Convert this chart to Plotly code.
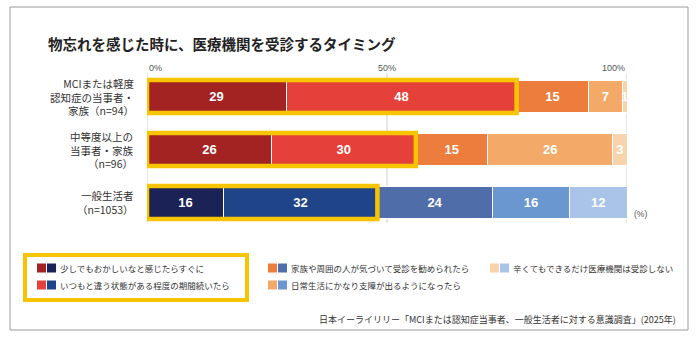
import plotly.graph_objects as go

# ---- data -------------------------------------------------------------
title = "物忘れを感じた時に、医療機関を受診するタイミング"
groups = [
    "MCIまたは軽度<br>認知症の当事者・<br>家族（n=94）",
    "中等度以上の<br>当事者・家族<br>（n=96）",
    "一般生活者<br>（n=1053）",
]
answers = [
    "少しでもおかしいなと感じたらすぐに",
    "いつもと違う状態がある程度の期間続いたら",
    "家族や周囲の人が気づいて受診を勧められたら",
    "日常生活にかなり支障が出るようになったら",
    "辛くてもできるだけ医療機関は受診しない",
]
mci_values = [29, 48, 15, 7, 1]
moderate_values = [26, 30, 15, 26, 3]
general_values = [16, 32, 24, 16, 12]
axis_ticks = [0, 50, 100]
tick_labels = ["0%", "50%", "100%"]
unit_label = "(%)"
source = "日本イーライリリー「MCIまたは認知症当事者、一般生活者に対する意識調査」(2025年)"

rows = [mci_values, moderate_values, general_values]

# ---- style ------------------------------------------------------------
warm = ["#a32322", "#e5403a", "#ec7d3c", "#f3a967", "#f8d3ab"]
cool = ["#1b2255", "#1f4487", "#4f6ea9", "#6a97d0", "#a9c4e7"]
row_palette = [warm, warm, cool]
yellow = "#f7c400"
font_jp = "Noto Sans CJK JP"
text_color = "#333333"

W, H = 700, 343
L, R, T, B = 147, 73, 70, 113
PW, PH = W - L - R, H - T - B


def px(x):
    return (x - L) / PW


def py(y):
    return (H - B - y) / PH


fig = go.Figure()

ypos = list(range(len(rows)))
for k in range(len(answers)):
    vals = [r[k] for r in rows]
    fig.add_trace(go.Bar(
        y=ypos,
        x=vals,
        orientation="h",
        width=0.62,
        marker=dict(color=[pal[k] for pal in row_palette],
                    line=dict(color="white", width=1)),
        text=[str(v) for v in vals],
        textposition="inside",
        insidetextanchor="middle",
        constraintext="none",
        textfont=dict(family="Liberation Sans", size=13, color="white",
                      weight="bold"),
        hoverinfo="skip",
        showlegend=False,
        cliponaxis=False,
    ))

shapes = []
# vertical guides at 0 / 50 / 100 %
for t in axis_ticks:
    shapes.append(dict(type="line", xref="x", yref="y", x0=t, x1=t,
                       y0=-0.44, y1=2.39, line=dict(color="#cfcfcf", width=1),
                       layer="below"))

# yellow frame around the "early visit" share of each row
for i, r in enumerate(rows):
    shapes.append(dict(type="rect", xref="x", yref="y",
                       x0=0, x1=r[0] + r[1], y0=i - 0.31, y1=i + 0.31,
                       line=dict(color=yellow, width=4.5), layer="above"))

# outer frame
shapes.append(dict(type="rect", xref="paper", yref="paper",
                   x0=px(10), x1=px(688), y0=py(330), y1=py(7),
                   line=dict(color="#9a9a9a", width=1), layer="below"))

# legend frame for the first two answers
shapes.append(dict(type="rect", xref="paper", yref="paper",
                   x0=px(25), x1=px(247), y0=py(300), y1=py(255),
                   line=dict(color=yellow, width=4)))

annotations = []
annotations.append(dict(text=f"<b>{title}</b>", xref="paper", yref="paper",
                        x=px(46), y=py(43), xanchor="left", yanchor="middle",
                        showarrow=False,
                        font=dict(family=font_jp, size=14.5, color="#222222")))

# axis labels along the top
anchors = ["left", "center", "right"]
for t, lab, a in zip(axis_ticks, tick_labels, anchors):
    annotations.append(dict(text=lab, xref="x", yref="paper", x=t, y=py(68),
                            xanchor=a, yanchor="middle", showarrow=False,
                            font=dict(family="Liberation Sans", size=9,
                                      color="#555555")))

annotations.append(dict(text=unit_label, xref="paper", yref="paper",
                        x=px(632), y=py(214), xanchor="left", yanchor="middle",
                        showarrow=False,
                        font=dict(family="Liberation Sans", size=8.5,
                                  color="#555555")))

# group labels
for i, g in enumerate(groups):
    annotations.append(dict(text=g, xref="paper", yref="y", x=px(136), y=i,
                            xanchor="right", yanchor="middle", align="right",
                            showarrow=False,
                            font=dict(family=font_jp, size=10.5,
                                      color=text_color)))

# legend: two swatches (warm / cool) per answer
legend_cols = [37, 37, 268, 268, 490]
legend_rows = [268, 285, 268, 285, 268]
sw = 9
for k, ans in enumerate(answers):
    x0, yc = legend_cols[k], legend_rows[k]
    for j, col in enumerate([warm[k], cool[k]]):
        sx = x0 + j * (sw + 1)
        shapes.append(dict(type="rect", xref="paper", yref="paper",
                           x0=px(sx), x1=px(sx + sw),
                           y0=py(yc + sw / 2), y1=py(yc - sw / 2),
                           fillcolor=col, line=dict(width=0)))
    annotations.append(dict(text=ans, xref="paper", yref="paper",
                            x=px(x0 + 2 * sw + 3), y=py(yc), xanchor="left",
                            yanchor="middle", showarrow=False,
                            font=dict(family=font_jp, size=8.5,
                                      color=text_color)))

annotations.append(dict(text=source, xref="paper", yref="paper",
                        x=px(678), y=py(319), xanchor="right",
                        yanchor="middle", showarrow=False,
                        font=dict(family=font_jp, size=9, color=text_color)))

fig.update_layout(
    width=W, height=H,
    margin=dict(l=L, r=R, t=T, b=B, pad=0),
    barmode="stack",
    paper_bgcolor="white",
    plot_bgcolor="white",
    xaxis=dict(range=[0, 100], visible=False, fixedrange=True),
    yaxis=dict(range=[2 + 27.5 / 53, -26.5 / 53], visible=False,
               fixedrange=True),
    shapes=shapes,
    annotations=annotations,
    showlegend=False,
)

fig.write_html("out.html")
